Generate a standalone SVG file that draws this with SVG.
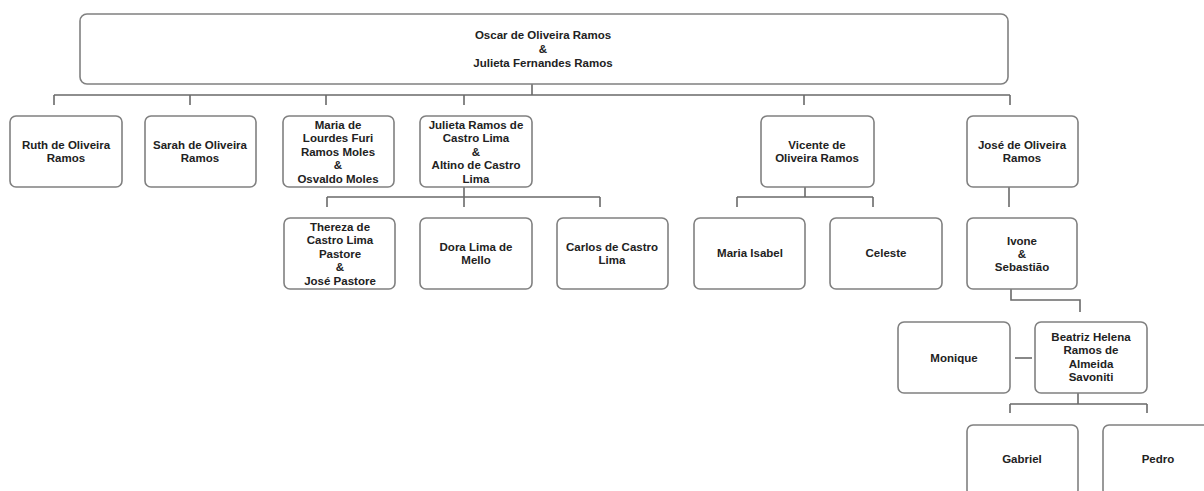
<svg xmlns="http://www.w3.org/2000/svg" width="1204" height="491" viewBox="0 0 1204 491">
<style>
.box{fill:#fff;stroke:#808080;stroke-width:1.6}
.t{font-family:"Liberation Sans",Arial,sans-serif;font-size:11.5px;font-weight:bold;fill:#222;text-anchor:middle}
.c{fill:none;stroke:#6a6a6a;stroke-width:1.6}
</style>
<rect width="1204" height="491" fill="#fff"/>
<g id="connectors">
<path class="c" d="M532 84V95M54 95H1010M54 95V105M190 95V105M326 95V105M464 95V105M804 95V105M1010 95V105"/>
<path class="c" d="M464 187V207M327 197H600M327 197V207M600 197V207"/>
<path class="c" d="M805 187V197M737 197H873M737 197V207M873 197V207"/>
<path class="c" d="M1009 187V207"/>
<path class="c" d="M1011 289V300H1080V312"/>
<path class="c" d="M1015 358H1032"/>
<path class="c" d="M1078 393V404M1010 404H1147M1010 404V413M1147 404V413"/>
</g>
<g id="root"><rect class="box" x="80" y="14" width="928" height="70" rx="7"/>
<text class="t" x="543" y="39">Oscar de Oliveira Ramos<tspan x="543" dy="14">&amp;</tspan><tspan x="543" dy="14">Julieta Fernandes  Ramos</tspan></text></g>
<g id="ruth"><rect class="box" x="10" y="116" width="112" height="71" rx="6"/>
<text class="t" x="66" y="149">Ruth de Oliveira<tspan x="66" dy="13">Ramos</tspan></text></g>
<g id="sarah"><rect class="box" x="145" y="116" width="111" height="71" rx="6"/>
<text class="t" x="200" y="149">Sarah de Oliveira<tspan x="200" dy="13">Ramos</tspan></text></g>
<g id="maria"><rect class="box" x="283" y="116" width="111" height="71" rx="6"/>
<text class="t" x="338" y="128.5">Maria de<tspan x="338" dy="13.5">Lourdes Furi</tspan><tspan x="338" dy="13.5">Ramos Moles</tspan><tspan x="338" dy="13.5">&amp;</tspan><tspan x="338" dy="13.5">Osvaldo Moles</tspan></text></g>
<g id="julieta"><rect class="box" x="420" y="116" width="112" height="71" rx="6"/>
<text class="t" x="476" y="128.5">Julieta Ramos  de<tspan x="476" dy="13.5">Castro Lima</tspan><tspan x="476" dy="13.5">&amp;</tspan><tspan x="476" dy="13.5">Altino de Castro</tspan><tspan x="476" dy="13.5">Lima</tspan></text></g>
<g id="vicente"><rect class="box" x="761" y="116" width="113" height="71" rx="6"/>
<text class="t" x="817" y="149">Vicente de<tspan x="817" dy="13">Oliveira Ramos</tspan></text></g>
<g id="jose"><rect class="box" x="967" y="116" width="111" height="71" rx="6"/>
<text class="t" x="1022" y="149">José de Oliveira<tspan x="1022" dy="13">Ramos</tspan></text></g>
<g id="thereza"><rect class="box" x="284" y="218" width="111" height="71" rx="6"/>
<text class="t" x="340" y="230.5">Thereza de<tspan x="340" dy="13.5">Castro Lima</tspan><tspan x="340" dy="13.5">Pastore</tspan><tspan x="340" dy="13.5">&amp;</tspan><tspan x="340" dy="13.5">José Pastore</tspan></text></g>
<g id="dora"><rect class="box" x="420" y="218" width="112" height="71" rx="6"/>
<text class="t" x="476" y="251">Dora Lima de<tspan x="476" dy="13">Mello</tspan></text></g>
<g id="carlos"><rect class="box" x="557" y="218" width="111" height="71" rx="6"/>
<text class="t" x="612" y="251">Carlos de Castro<tspan x="612" dy="13">Lima</tspan></text></g>
<g id="mariaisabel"><rect class="box" x="694" y="218" width="111" height="71" rx="6"/>
<text class="t" x="750" y="257">Maria Isabel</text></g>
<g id="celeste"><rect class="box" x="830" y="218" width="112" height="71" rx="6"/>
<text class="t" x="886" y="257">Celeste</text></g>
<g id="ivone"><rect class="box" x="967" y="218" width="110" height="71" rx="6"/>
<text class="t" x="1022" y="245">Ivone<tspan x="1022" dy="13">&amp;</tspan><tspan x="1022" dy="13">Sebastião</tspan></text></g>
<g id="monique"><rect class="box" x="898" y="322" width="112" height="71" rx="6"/>
<text class="t" x="954" y="362">Monique</text></g>
<g id="beatriz"><rect class="box" x="1035" y="322" width="112" height="71" rx="6"/>
<text class="t" x="1091" y="341">Beatriz Helena<tspan x="1091" dy="13.3">Ramos de</tspan><tspan x="1091" dy="13.3">Almeida</tspan><tspan x="1091" dy="13.3">Savoniti</tspan></text></g>
<g id="gabriel"><rect class="box" x="967" y="425" width="111" height="71" rx="6"/>
<text class="t" x="1022" y="463">Gabriel</text></g>
<g id="pedro"><rect class="box" x="1103" y="425" width="111" height="71" rx="6"/>
<text class="t" x="1158" y="463">Pedro</text></g>
</svg>
